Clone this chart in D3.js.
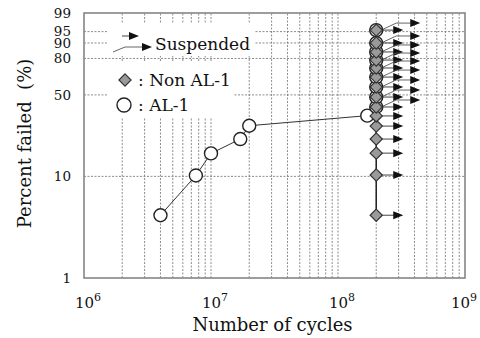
<!DOCTYPE html>
<html>
<head>
<meta charset="utf-8">
<script src="https://cdn.jsdelivr.net/npm/d3@7"></script>
<style>
  body { margin: 0; background: #fff; }
  svg { display: block; font-family: "DejaVu Serif", serif; }
</style>
</head>
<body>
<svg id="chart" width="480" height="338"></svg>
<script>
// tick / grid values
const pctTicks = [1, 10, 50, 80, 90, 95, 99];
const pctGrid = [10, 50, 80, 90, 95];
const decadeExps = [6, 7, 8, 9];

// AL-1 failures (cycles, percent failed)
const al1Cycles = [4.0e6, 7.6e6, 1.0e7, 1.7e7, 2.0e7, 1.7e8];
const al1Pct = [4.2, 10.2, 16.4, 22.1, 28.8, 34.9];

// suspended at runout
const runoutCycles = 2.0e8;
const al1RunoutPct = [40.8, 48.3, 56.5, 64.9, 72.5, 78.8, 84.6, 90.0, 95.5];
const nonAl1Pct = [4.2, 10.3, 16.5, 22.1, 28.6, 34.7, 40.8, 48.3, 56.5, 64.9, 72.5, 78.8, 84.6, 90.0, 95.5];

const margin = {top: 13, right: 15, bottom: 60, left: 84};
const W = 480, H = 338;
const svg = d3.select("#chart");

const weib = p => Math.log(-Math.log(1 - p / 100));

const x = d3.scaleLog().domain([1e6, 1e9]).range([margin.left, W - margin.right]);
const yLin = d3.scaleLinear().domain([weib(1), weib(99)]).range([H - margin.bottom, margin.top]);
const y = p => yLin(weib(p));

const x0 = margin.left, x1 = W - margin.right, y0 = H - margin.bottom, y1 = margin.top;
const gridColor = "#6f6f6f";

// vertical grid
const minor = [];
decadeExps.slice(0, 3).forEach(e => {
    for (let k = 2; k <= 10; k++) minor.push(k * Math.pow(10, e));
});
svg.append("g").selectAll("line")
    .data(minor.filter(v => v < 1e9))
    .enter().append("line")
    .attr("x1", d => x(d)).attr("x2", d => x(d))
    .attr("y1", y0).attr("y2", y1)
    .attr("stroke", gridColor).attr("stroke-width", 0.8)
    .attr("stroke-dasharray", "2,1.5");

// horizontal grid
svg.append("g").selectAll("line")
    .data(pctGrid)
    .enter().append("line")
    .attr("x1", x0).attr("x2", x1)
    .attr("y1", d => y(d)).attr("y2", d => y(d))
    .attr("stroke", gridColor).attr("stroke-width", 0.8)
    .attr("stroke-dasharray", "2,1.5");

// legend backgrounds
svg.append("rect").attr("x", 108).attr("y", 23).attr("width", 147).attr("height", 33).attr("fill", "#fff");
svg.append("rect").attr("x", 108).attr("y", 61).attr("width", 125).attr("height", 56).attr("fill", "#fff");

// frame
svg.append("rect")
    .attr("x", x0).attr("y", y1)
    .attr("width", x1 - x0).attr("height", y0 - y1)
    .attr("fill", "none").attr("stroke", "#858585").attr("stroke-width", 1.6);

// y tick labels
svg.append("g").selectAll("text")
    .data(pctTicks)
    .enter().append("text")
    .attr("x", 71).attr("y", d => y(d))
    .attr("dy", "0.36em")
    .attr("text-anchor", "end")
    .attr("font-size", 13.5)
    .attr("fill", "#111")
    .text(d => d);

// x tick labels
const xt = svg.append("g").selectAll("text")
    .data(decadeExps)
    .enter().append("text")
    .attr("x", d => x(Math.pow(10, d)) + (d === 9 ? -1 : 4)).attr("y", 308)
    .attr("text-anchor", "middle")
    .attr("font-size", 15)
    .attr("fill", "#111");
xt.append("tspan").text("10");
xt.append("tspan").attr("dy", -7).attr("font-size", 11).text(d => d);

// axis titles
svg.append("text")
    .attr("x", (x0 + x1) / 2 - 2).attr("y", 331)
    .attr("text-anchor", "middle")
    .attr("font-size", 18).attr("fill", "#111")
    .text("Number of cycles");
svg.append("text")
    .attr("transform", `translate(31,${(y0 + y1) / 2 - 2}) rotate(-90)`)
    .attr("text-anchor", "middle")
    .attr("font-size", 18).attr("fill", "#111")
    .style("white-space", "pre")
    .text("Percent failed  (%)");

// arrows
function arrowHead(g, tx, ty) {
    g.append("path")
        .attr("d", `M${tx},${ty} L${tx - 10},${ty - 4} L${tx - 10},${ty + 4} Z`)
        .attr("fill", "#111");
}
function shortArrow(g, sx, sy) {
    g.append("line").attr("x1", sx).attr("x2", sx + 24).attr("y1", sy).attr("y2", sy)
        .attr("stroke", "#444").attr("stroke-width", 1);
    arrowHead(g, sx + 27, sy);
}
function longArrow(g, sx, sy) {
    g.append("path")
        .attr("d", `M${sx + 5},${sy} L${sx + 20},${sy - 7} L${sx + 40},${sy - 7}`)
        .attr("fill", "none").attr("stroke", "#555").attr("stroke-width", 0.9);
    arrowHead(g, sx + 44, sy - 7);
}

const arrows = svg.append("g");
const rx = x(runoutCycles);
nonAl1Pct.forEach(p => shortArrow(arrows, rx, y(p)));
al1RunoutPct.forEach(p => longArrow(arrows, rx, y(p)));

// connecting lines
const al1Pts = al1Cycles.map((c, i) => [x(c), y(al1Pct[i])])
    .concat(al1RunoutPct.map(p => [rx, y(p)]));
svg.append("path")
    .attr("d", d3.line()(al1Pts))
    .attr("fill", "none").attr("stroke", "#333").attr("stroke-width", 1);
svg.append("path")
    .attr("d", d3.line()(nonAl1Pct.map(p => [rx, y(p)])))
    .attr("fill", "none").attr("stroke", "#222").attr("stroke-width", 1.5);

// markers
svg.append("g").selectAll("circle")
    .data(al1Pts)
    .enter().append("circle")
    .attr("cx", d => d[0]).attr("cy", d => d[1])
    .attr("r", 6.5)
    .attr("fill", "#fff").attr("stroke", "#222").attr("stroke-width", 1.4);

const diamond = d3.symbol().type(d3.symbolDiamond2).size(95);
svg.append("g").selectAll("path")
    .data(nonAl1Pct)
    .enter().append("path")
    .attr("transform", d => `translate(${rx},${y(d)})`)
    .attr("d", diamond)
    .attr("fill", "#9a9a9a").attr("stroke", "#333").attr("stroke-width", 1.2);

// legend
const lg = svg.append("g");
lg.append("line").attr("x1", 122).attr("x2", 130).attr("y1", 36).attr("y2", 36)
    .attr("stroke", "#444").attr("stroke-width", 1);
arrowHead(lg, 139, 36);
lg.append("path").attr("d", "M113,52 L125,47 L143,47")
    .attr("fill", "none").attr("stroke", "#555").attr("stroke-width", 0.9);
arrowHead(lg, 152, 47);
lg.append("text").attr("x", 155).attr("y", 50).attr("font-size", 17).attr("fill", "#111").text("Suspended");

lg.append("path").attr("transform", "translate(125,80)").attr("d", diamond)
    .attr("fill", "#9a9a9a").attr("stroke", "#333").attr("stroke-width", 1.2);
lg.append("text").attr("x", 138).attr("y", 86).attr("font-size", 17).attr("fill", "#111").text(": Non AL-1");
lg.append("circle").attr("cx", 124).attr("cy", 105).attr("r", 7)
    .attr("fill", "#fff").attr("stroke", "#222").attr("stroke-width", 1.4);
lg.append("text").attr("x", 138).attr("y", 111).attr("font-size", 17).attr("fill", "#111").text(": AL-1");
</script>
</body>
</html>
